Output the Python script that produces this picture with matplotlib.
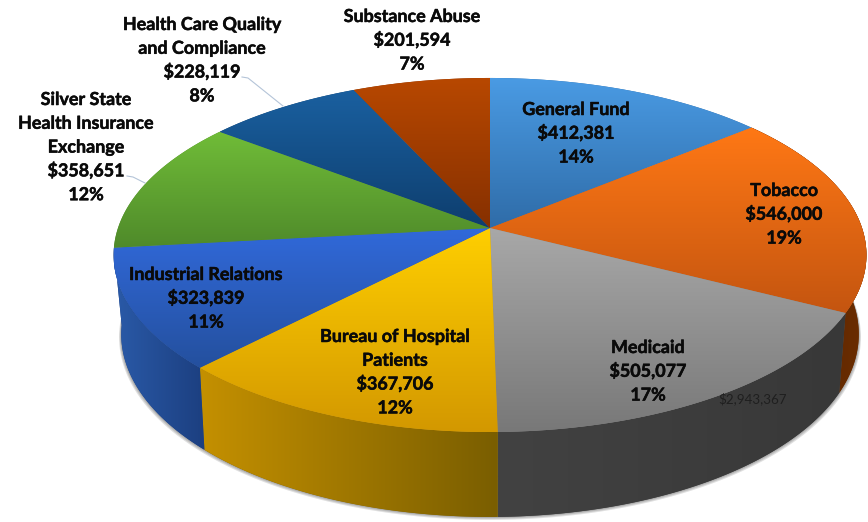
#!/usr/bin/env python3
""" Perspective 3D pie of budget by category, drawn in pixel coordinates"""
import numpy as np
import matplotlib
matplotlib.use('Agg')
import matplotlib.pyplot as plt
import matplotlib.patheffects as pe
from matplotlib.colors import LinearSegmentedColormap
from matplotlib.patches import Polygon

categories = ['General Fund', 'Tobacco', 'Medicaid', 'Bureau of Hospital\nPatients',
              'Industrial Relations', 'Silver State\nHealth Insurance\nExchange',
              'Health Care Quality\nand Compliance', 'Substance Abuse']
values = [412381, 546000, 505077, 367706, 323839, 358651, 228119, 201594]
total_label = '$2,943,367'

# gradient colours, top face (top to bottom) and side wall (left to right)
top_colors = [('#4a9be4', '#2f6ca8'), ('#ff7815', '#c45510'), ('#a8a8a8', '#787878'),
              ('#ffcf00', '#d39800'), ('#3169da', '#24509e'), ('#70bc38', '#4f8a2a'),
              ('#1a60a0', '#0e3e6e'), ('#b84800', '#863000')]
side_colors = [None, ('#4f2000', '#6b2d00'), ('#424242', '#383838'),
               ('#c49000', '#7a5e00'), ('#2a5aa8', '#1c3f80'), None, None, None]

# where each label sits (centre x, baseline of first line)
label_pos = [(576, 115), (784, 196), (648, 353), (395, 342),
             (206, 280), (86, 105), (202, 30), (412, 22)]
leaders = [([127, 133, 145], [176, 177, 183]), ([242, 248, 283], [77, 78, 106])]
LINE_STEP = 23.8

# projection of the top face and of the base
CX = 490
TOP = dict(cy=228, a=372, b=172.9, k=0.1525)
BASE = dict(cy=305, a=364, b=178, k=0.16)


def project(theta, plane):
    x = np.sin(theta)
    y = np.cos(theta)
    d = 1 + plane['k'] * y
    return CX + plane['a'] * x / d, plane['cy'] - plane['b'] * y / d


def gradient_fill(ax, pts, c0, c1, vertical, zorder):
    # image gradient clipped to a polygon
    cmap = LinearSegmentedColormap.from_list('g', [c0, c1])
    ramp = np.linspace(0, 1, 256)
    ramp = ramp[:, None] if vertical else ramp[None, :]
    x0, y0 = pts.min(axis=0)
    x1, y1 = pts.max(axis=0)
    im = ax.imshow(ramp, cmap=cmap, extent=(x0, x1, y1, y0), aspect='auto',
                   zorder=zorder, interpolation='bilinear')
    poly = Polygon(pts, closed=True, transform=ax.transData)
    im.set_clip_path(poly)
    # same polygon underneath to hide seams
    ax.add_patch(Polygon(pts, closed=True, fc=c1, ec='none', zorder=zorder - 0.1))


fig = plt.figure(figsize=(8.68, 5.22), dpi=100)
ax = fig.add_axes([0, 0, 1, 1])

edges = np.cumsum([0] + values) / sum(values) * 2 * np.pi

# soft shadow under the base
t = np.linspace(0, 2 * np.pi, 400)
bx, by = project(t, BASE)
for off in [3, 2, 1]:
    sx = CX + (bx - CX) * (1 + off * 0.002)
    ax.fill(sx, by + off, color='#000000', alpha=0.12, lw=0, zorder=1)

# side walls (only the ones facing the viewer), then top face
for i in range(len(values)):
    if side_colors[i] is None:
        continue
    t = np.linspace(edges[i], edges[i + 1], 120)
    tx, ty = project(t, TOP)
    bx, by = project(t, BASE)
    wall = np.column_stack([np.r_[tx, bx[::-1]], np.r_[ty, by[::-1]]])
    gradient_fill(ax, wall, side_colors[i][0], side_colors[i][1], False, 2 + i * 0.01)

for i in range(len(values)):
    t = np.linspace(edges[i], edges[i + 1], 120)
    tx, ty = project(t, TOP)
    face = np.column_stack([np.r_[CX, tx], np.r_[TOP['cy'], ty]])
    gradient_fill(ax, face, top_colors[i][0], top_colors[i][1], True, 4 + i * 0.01)

for lx, ly in leaders:
    ax.plot(lx, ly, color='#b4c4d8', lw=0.8, zorder=5)

# one text per line so the line spacing stays even
for cat, val, (x, y) in zip(categories, values, label_pos):
    pct = round(val / sum(values) * 100)
    lines = f'{cat}\n${val:,}\n{pct}%'.split('\n')
    for j, line in enumerate(lines):
        txt = ax.text(x, y + j * LINE_STEP, line, ha='center', va='baseline', family='Lato',
                      weight='bold', fontsize=12.9, color='#0a0a0a', zorder=6)
        txt.set_path_effects([pe.withStroke(linewidth=0.35, foreground='#0a0a0a')])

ax.text(753, 403, total_label, ha='center', va='baseline', family='Lato',
        fontsize=9.6, color='#1f1f1f', zorder=6)

ax.set_xlim(0, 868)
ax.set_ylim(522, 0)
ax.axis('off')
fig.savefig('out.png', dpi=100)
